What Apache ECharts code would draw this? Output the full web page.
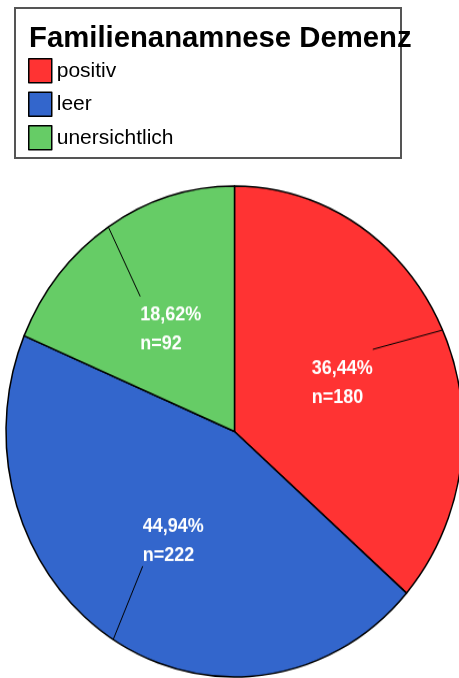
<!DOCTYPE html>
<html><head><meta charset="utf-8">
<script src="https://cdn.jsdelivr.net/npm/echarts@6/dist/echarts.min.js"></script>
<style>
html,body{margin:0;padding:0;background:#fff;overflow:hidden;}
#pie{position:absolute;left:0;top:0;width:459px;height:678px;transform-origin:234.5px 431.5px;transform:scaleY(1.0744);}
#legend{position:absolute;left:0;top:0;width:459px;height:180px;}
</style></head><body>
<div id="pie"></div><div id="legend"></div>
<script>
const categories = ['positiv', 'leer', 'unersichtlich'];
const counts = [180, 222, 92];
const colors = ['#FF3333', '#3366CC', '#66CC66'];
const titleText = 'Familienanamnese Demenz';

const FONT = '"Liberation Sans", Arial, sans-serif';
const CX = 234.5, CY = 431.5, R = 228.5;
const pieData = categories.map((n, i) => ({ name: n, value: counts[i] }));

const pieChart = echarts.init(document.getElementById('pie'));
pieChart.setOption({
  animation: false,
  color: colors,
  series: [{
    type: 'pie', center: [CX, CY], radius: R, startAngle: 90, clockwise: true,
    avoidLabelOverlap: false,
    data: pieData,
    itemStyle: { borderColor: '#000', borderWidth: 1.5 },
    emphasis: { disabled: true },
    label: {
      show: true, position: 'outside', color: '#fff', fontFamily: FONT, fontWeight: 'bold',
      fontSize: 18, lineHeight: 27,
      formatter: p => p.percent.toFixed(2).replace('.', ',') + '%\nn=' + p.value
    },
    labelLine: { show: true, showAbove: true, length: 15, length2: 15, lineStyle: { color: '#000', width: 1 } },
    labelLayout: function (params) {
      const p0 = params.labelLinePoints[0];
      let dx = p0[0] - CX, dy = p0[1] - CY;
      const d = Math.hypot(dx, dy); dx /= d; dy /= d;
      const lx = CX + dx * (R / 2 + 3) + 1, ly = CY + dy * (R / 2 + 3) + 3;
      const w = params.labelRect.width, h = params.labelRect.height;
      const left = lx - w / 2, top = ly - h / 2;
      const cornerX = dx > 0 ? left + w : left;
      const cornerY = dy > 0 ? top + h - 4 : top - 4;
      return { x: left, y: top, align: 'left', verticalAlign: 'top', labelLinePoints: [p0, [cornerX, cornerY]] };
    }
  }]
});
// keep the label guide lines drawn above the slices
(function raiseGuideLines() {
  const zr = pieChart.getZr();
  zr.storage.getDisplayList(true).forEach(el => {
    if (el.type === 'polyline') { el.z2 = 10; el.markRedraw(); }
  });
  zr.refreshImmediately();
})();

const legChart = echarts.init(document.getElementById('legend'));
legChart.setOption({
  animation: false,
  color: colors,
  title: {
    text: titleText, left: 29, top: 24, padding: 0,
    textStyle: { fontFamily: FONT, fontWeight: 'bold', fontSize: 29.3, color: '#000' }
  },
  legend: {
    orient: 'vertical', left: 28, top: 58, padding: 0, itemWidth: 23, itemHeight: 24, itemGap: 8,
    icon: 'rect', data: categories, selectedMode: false,
    itemStyle: { borderColor: '#000', borderWidth: 1.5 },
    textStyle: { fontFamily: FONT, fontSize: 21, color: '#000' }
  },
  graphic: [{
    type: 'rect', z: 0, shape: { x: 15, y: 8, width: 386, height: 150 },
    style: { fill: 'none', stroke: '#555', lineWidth: 2 }
  }],
  series: [{
    type: 'pie', center: [-1000, -1000], radius: 1, data: pieData, silent: true,
    label: { show: false }, labelLine: { show: false },
    itemStyle: { borderColor: '#000', borderWidth: 1.5 }
  }]
});
</script>
</body></html>
